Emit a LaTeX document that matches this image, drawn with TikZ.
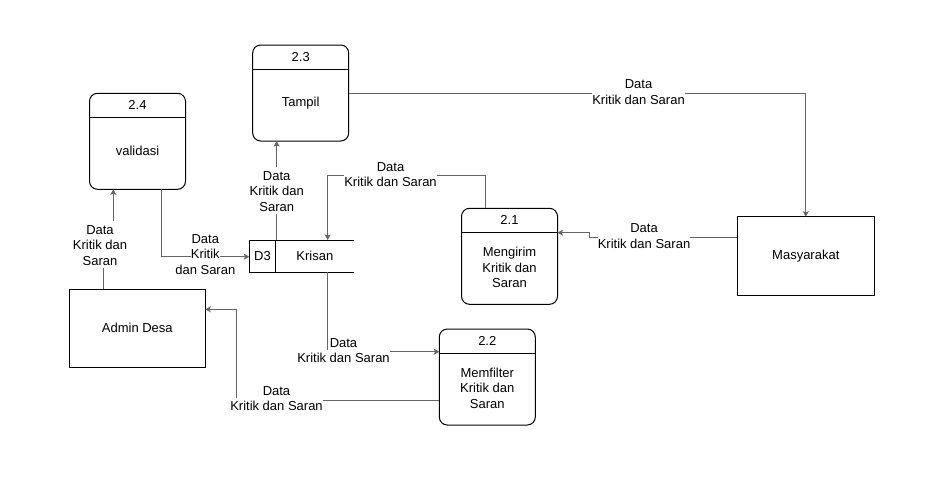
\documentclass[tikz,border=0pt]{standalone}
\usepackage{fontspec}
\setmainfont{Liberation Sans}
\usetikzlibrary{arrows.meta}
\definecolor{flowc}{RGB}{102,102,102}
\newcommand\lnbg[1]{{\setlength{\fboxsep}{0pt}\colorbox{white}{\rule[-2.5pt]{0pt}{15.5pt}#1}}}
\begin{document}
\begin{tikzpicture}[x=1pt,y=-1pt,
  txt/.style={font=\fontsize{13}{15.5}\selectfont, align=center, inner sep=0pt},
  lbl/.style={txt},
  proc/.style={draw=black, line width=1pt, rounded corners=8pt, minimum width=96pt, minimum height=96pt, outer sep=0pt, inner sep=0pt},
  ext/.style={txt, draw=black, line width=1pt, outer sep=0pt},
  flow/.style={draw=flowc, line width=1pt, -{Stealth[length=5.5pt,width=6pt,inset=1.2pt]}},
  hdr/.style={draw=black, line width=1pt}]

\fill[white] (0,0) rectangle (951,479);
\useasboundingbox (0,0) rectangle (951,479);

% processes
\node[proc] (p24) at (137.5,141.3) {};
\node[proc] (p23) at (300.7,93) {};
\node[proc] (p21) at (509.5,256.3) {};
\node[proc] (p22) at (487.3,377) {};
\foreach \p in {p24,p23,p21,p22}
  \draw[hdr] ([yshift=-24pt]\p.north west) -- ([yshift=-24pt]\p.north east);
\node[txt] (n24) at ([yshift=-12pt]p24.north) {2.4};
\node[txt] (n23) at ([yshift=-12pt]p23.north) {2.3};
\node[txt] (n21) at ([yshift=-12pt]p21.north) {2.1};
\node[txt] (n22) at ([yshift=-12pt]p22.north) {2.2};
\node[txt] (t24) at ([yshift=-58pt]p24.north) {validasi};
\node[txt] (t23) at ([yshift=-58pt]p23.north) {Tampil};
\node[txt] (t21) at ([yshift=-59.5pt]p21.north) {Mengirim\\Kritik dan\\Saran};
\node[txt] (t22) at ([yshift=-59pt]p22.north) {Memfilter\\Kritik dan\\Saran};

% external entities
\node[ext, minimum width=137pt, minimum height=79pt] (mas) at (805.8,256.2) {Masyarakat};
\node[ext, minimum width=136pt, minimum height=78pt] (adm) at (137.3,328.3) {Admin Desa};

% data store
\node[minimum width=104.7pt, minimum height=32pt, inner sep=0pt, outer sep=0pt] (d3) at (301.65,256) {};
\draw[hdr] (d3.north east) -- (d3.north west) -- (d3.south west) -- (d3.south east);
\draw[hdr] ([xshift=26.4pt]d3.north west) -- ([xshift=26.4pt]d3.south west);
\node[txt] (d3id) at ([xshift=13.2pt]d3.west) {D3};
\node[txt] (d3nm) at ([xshift=13.2pt]d3.center) {Krisan};

% flows
\draw[flow] (p23.east) -| (mas.north);
\draw[flow] ([yshift=18.9pt]mas.west) -- ++(-148.3,0) |- ([yshift=23.6pt]p21.east);
\draw[flow] ([xshift=-23.8pt]p21.north) -- ++(0,-32.6) -| ([xshift=26pt]d3.north);
\draw[flow] ([xshift=-25pt]d3.north) -- ([xshift=-25pt]d3.north |- p23.south);
\draw[flow] ([xshift=24.2pt]p24.south) |- ([yshift=-0.7pt]d3.west);
\draw[flow] ([xshift=26pt]d3.south) |- ([yshift=25.3pt]p22.west);
\draw[flow] ([yshift=-23pt]p22.west) -- ++(-202.6,0) |- ([yshift=19pt]adm.east);
\draw[flow] ([xshift=-34pt]adm.north) -- ++(0,-44) -| ([xshift=-24.2pt]p24.south);

% flow labels
\node[lbl] (l1) at (638.5,91.15) {\lnbg{Data}\\\lnbg{Kritik dan Saran}};
\node[lbl] (l2) at (644,235.15) {\lnbg{Data}\\\lnbg{Kritik dan Saran}};
\node[lbl] (l3) at (390.5,173.95) {\lnbg{Data}\\\lnbg{Kritik dan Saran}};
\node[lbl] (l4) at (276.7,190.4) {\lnbg{Data}\\\lnbg{Kritik dan}\\\lnbg{Saran}};
\node[lbl] (l5) at (205.3,253.4) {\lnbg{Data}\\\lnbg{Kritik}\\\lnbg{dan Saran}};
\node[lbl] (l6) at (343.5,349.95) {\lnbg{Data}\\\lnbg{Kritik dan Saran}};
\node[lbl] (l7) at (276.5,397.95) {\lnbg{Data}\\\lnbg{Kritik dan Saran}};
\node[lbl] (l8) at (100,244.4) {\lnbg{Data}\\\lnbg{Kritik dan}\\\lnbg{Saran}};
\end{tikzpicture}
\end{document}
